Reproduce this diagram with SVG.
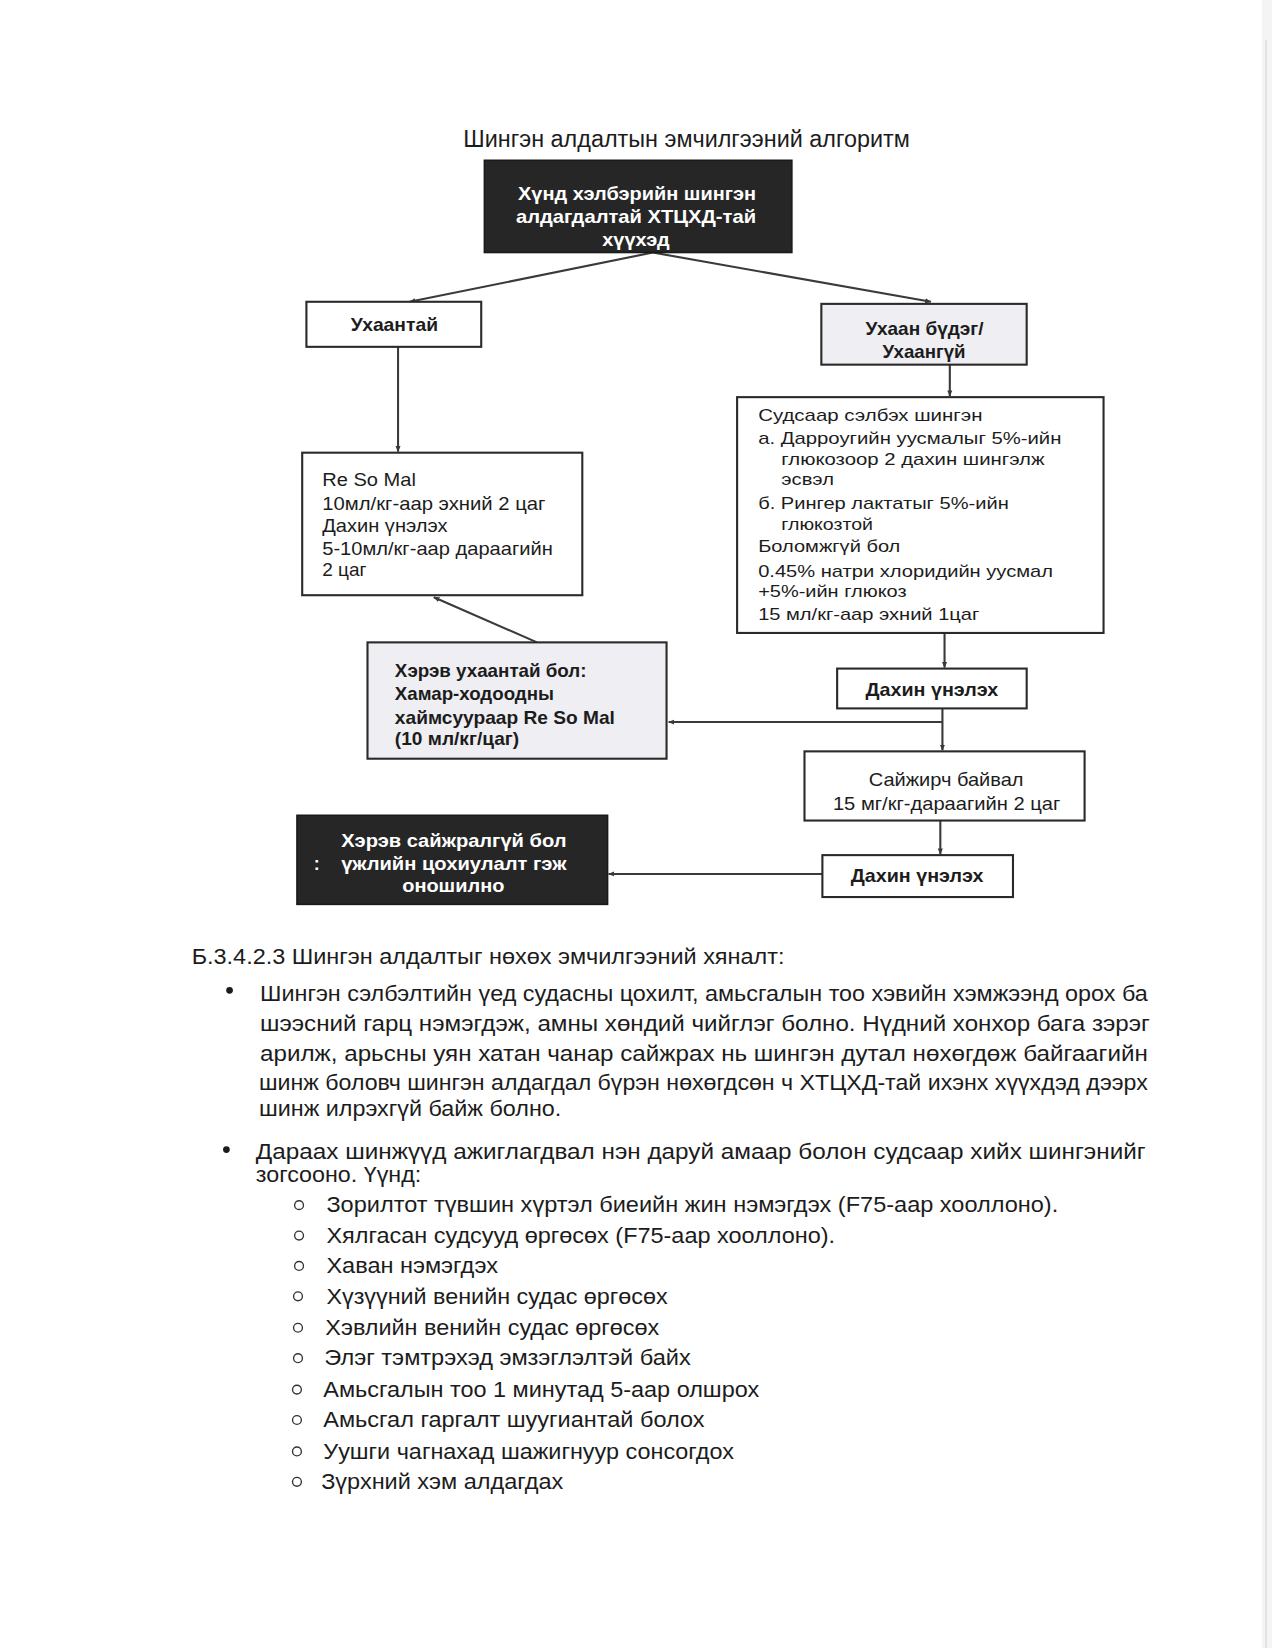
<svg xmlns="http://www.w3.org/2000/svg" width="1272" height="1648" viewBox="0 0 1272 1648">
<style>
text{font-family:"Liberation Sans",Arial,"Noto Sans",sans-serif;fill:#1c1c1c}
.t16{font-size:16px}
.t17{font-size:17px}
.b{font-weight:bold}
.w{fill:#ffffff}
.c{text-anchor:middle}
.body{font-size:21px}
.box{fill:#ffffff;stroke:#2a2a2a;stroke-width:2}
.lt{fill:#eeeef3;stroke:#2a2a2a;stroke-width:2}
.dk{fill:#262626;stroke:#1a1a1a;stroke-width:1.5}
.con{fill:none;stroke:#3a3a3a;stroke-width:2;marker-end:url(#ah)}
.ring{fill:none;stroke:#333;stroke-width:1.3}
</style>
<defs>
<marker id="ah" viewBox="0 0 10 10" refX="9" refY="5" markerWidth="6" markerHeight="6" orient="auto" markerUnits="userSpaceOnUse">
<path d="M0,1 L10,5 L0,9 Z" fill="#3a3a3a"/>
</marker>
</defs>
<rect x="0" y="0" width="1272" height="1648" fill="#ffffff"/>
<rect x="1262" y="0" width="10" height="1648" fill="#f4f4f4"/>
<line x1="1266" y1="40" x2="1266" y2="1648" stroke="#e2e2e2" stroke-width="2"/>
<g transform="matrix(1.053 0 0 1.048 0 1)">
<text id="title" x="440" y="139" font-size="22" textLength="424" lengthAdjust="spacingAndGlyphs">Шингэн алдалтын эмчилгээний алгоритм</text>

<g id="connectors">
<line class="con" x1="620" y1="240" x2="389" y2="287"/>
<line class="con" x1="620" y1="240" x2="884" y2="287"/>
<line class="con" x1="378" y1="330" x2="378" y2="430"/>
<line class="con" x1="902" y1="347" x2="902" y2="377"/>
<line class="con" x1="510" y1="612" x2="412" y2="569"/>
<line class="con" x1="897" y1="603" x2="897" y2="636"/>
<line class="con" x1="895" y1="675" x2="895" y2="715"/>
<line class="con" x1="895" y1="688" x2="635" y2="688"/>
<line class="con" x1="893" y1="782" x2="893" y2="814"/>
<line class="con" x1="781" y1="833" x2="578" y2="833"/>
</g>

<g id="n_start">
<rect class="dk" x="460" y="152" width="292" height="88"/>
<text class="t17 b w c" x="605" y="190" textLength="226" lengthAdjust="spacingAndGlyphs">Хүнд хэлбэрийн шингэн</text>
<text class="t17 b w c" x="604" y="212" textLength="228" lengthAdjust="spacingAndGlyphs">алдагдалтай ХТЦХД-тай</text>
<text class="t17 b w c" x="604" y="234" textLength="64" lengthAdjust="spacingAndGlyphs">хүүхэд</text>
</g>

<g id="n_conscious">
<rect class="box" x="291" y="287" width="166" height="43"/>
<text class="t17 b c" x="374.5" y="315" textLength="83" lengthAdjust="spacingAndGlyphs">Ухаантай</text>
</g>

<g id="n_unconscious">
<rect class="lt" x="780" y="289" width="195" height="58"/>
<text class="t17 b c" x="878" y="319" textLength="112" lengthAdjust="spacingAndGlyphs">Ухаан бүдэг/</text>
<text class="t17 b c" x="877.5" y="341" textLength="79" lengthAdjust="spacingAndGlyphs">Ухаангүй</text>
</g>

<g id="n_resomal">
<rect class="box" x="287" y="431" width="266" height="136"/>
<text class="t17" x="306" y="463" textLength="89" lengthAdjust="spacingAndGlyphs">Re So Mal</text>
<text class="t17" x="306" y="486" textLength="212" lengthAdjust="spacingAndGlyphs">10мл/кг-аар эхний 2 цаг</text>
<text class="t17" x="306" y="507" textLength="119" lengthAdjust="spacingAndGlyphs">Дахин үнэлэх</text>
<text class="t17" x="306" y="529" textLength="219" lengthAdjust="spacingAndGlyphs">5-10мл/кг-аар дараагийн</text>
<text class="t17" x="306" y="549" textLength="42" lengthAdjust="spacingAndGlyphs">2 цаг</text>
</g>

<g id="n_iv">
<rect class="box" x="700" y="378" width="348" height="225"/>
<text class="t16" x="720" y="401" textLength="213" lengthAdjust="spacingAndGlyphs">Судсаар сэлбэх шингэн</text>
<text class="t16" x="720" y="423" textLength="288" lengthAdjust="spacingAndGlyphs">а. Дарроугийн уусмалыг 5%-ийн</text>
<text class="t16" x="742" y="443" textLength="250" lengthAdjust="spacingAndGlyphs">глюкозоор 2 дахин шингэлж</text>
<text class="t16" x="742" y="462" textLength="50" lengthAdjust="spacingAndGlyphs">эсвэл</text>
<text class="t16" x="720" y="485" textLength="238" lengthAdjust="spacingAndGlyphs">б. Рингер лактатыг 5%-ийн</text>
<text class="t16" x="742" y="505" textLength="87" lengthAdjust="spacingAndGlyphs">глюкозтой</text>
<text class="t16" x="720" y="526" textLength="135" lengthAdjust="spacingAndGlyphs">Боломжгүй бол</text>
<text class="t16" x="720" y="550" textLength="280" lengthAdjust="spacingAndGlyphs">0.45% натри хлоридийн уусмал</text>
<text class="t16" x="720" y="569" textLength="141" lengthAdjust="spacingAndGlyphs">+5%-ийн глюкоз</text>
<text class="t16" x="720" y="591" textLength="210" lengthAdjust="spacingAndGlyphs">15 мл/кг-аар эхний 1цаг</text>
</g>

<g id="n_ng">
<rect class="lt" x="349" y="612" width="284" height="111"/>
<text class="t17 b" x="375" y="645" textLength="182" lengthAdjust="spacingAndGlyphs">Хэрэв ухаантай бол:</text>
<text class="t17 b" x="375" y="667" textLength="151" lengthAdjust="spacingAndGlyphs">Хамар-ходоодны</text>
<text class="t17 b" x="375" y="690" textLength="209" lengthAdjust="spacingAndGlyphs">хаймсуураар Re So Mal</text>
<text class="t17 b" x="375" y="710" textLength="118" lengthAdjust="spacingAndGlyphs">(10 мл/кг/цаг)</text>
</g>

<g id="n_reassess1">
<rect class="box" x="795" y="637" width="180" height="38"/>
<text class="t17 b c" x="885" y="663" textLength="126" lengthAdjust="spacingAndGlyphs">Дахин үнэлэх</text>
</g>

<g id="n_improve">
<rect class="box" x="764" y="716" width="266" height="66"/>
<text class="t17 c" x="898.5" y="749" textLength="147" lengthAdjust="spacingAndGlyphs">Сайжирч байвал</text>
<text class="t17 c" x="899" y="772" textLength="216" lengthAdjust="spacingAndGlyphs">15 мг/кг-дараагийн 2 цаг</text>
</g>

<g id="n_reassess2">
<rect class="box" x="781" y="815" width="181" height="40"/>
<text class="t17 b c" x="871" y="841" textLength="126" lengthAdjust="spacingAndGlyphs">Дахин үнэлэх</text>
</g>

<g id="n_sepsis">
<rect class="dk" x="282" y="777" width="295" height="85"/>
<text class="t17 b w c" x="431" y="807" textLength="214" lengthAdjust="spacingAndGlyphs">Хэрэв сайжралгүй бол</text>
<text class="t17 b w" x="298" y="829">:</text>
<text class="t17 b w c" x="431" y="829" textLength="214" lengthAdjust="spacingAndGlyphs">үжлийн цохиулалт гэж</text>
<text class="t17 b w c" x="430.5" y="850" textLength="97" lengthAdjust="spacingAndGlyphs">оношилно</text>
</g>

<g id="body">
<text class="body" x="182" y="919" textLength="563" lengthAdjust="spacingAndGlyphs">Б.3.4.2.3 Шингэн алдалтыг нөхөх эмчилгээний хяналт:</text>
<circle cx="218" cy="944" r="3.2" fill="#1c1c1c"/>
<text class="body" x="247" y="954" textLength="843" lengthAdjust="spacingAndGlyphs">Шингэн сэлбэлтийн үед судасны цохилт, амьсгалын тоо хэвийн хэмжээнд орох ба</text>
<text class="body" x="247" y="983" textLength="845" lengthAdjust="spacingAndGlyphs">шээсний гарц нэмэгдэж, амны хөндий чийглэг болно. Нүдний хонхор бага зэрэг</text>
<text class="body" x="247" y="1011" textLength="843" lengthAdjust="spacingAndGlyphs">арилж, арьсны уян хатан чанар сайжрах нь шингэн дутал нөхөгдөж байгаагийн</text>
<text class="body" x="246" y="1039" textLength="844" lengthAdjust="spacingAndGlyphs">шинж боловч шингэн алдагдал бүрэн нөхөгдсөн ч ХТЦХД-тай ихэнх хүүхдэд дээрх</text>
<text class="body" x="246" y="1064" textLength="287" lengthAdjust="spacingAndGlyphs">шинж илрэхгүй байж болно.</text>
<circle cx="215" cy="1096" r="3.2" fill="#1c1c1c"/>
<text class="body" x="243" y="1105" textLength="845" lengthAdjust="spacingAndGlyphs">Дараах шинжүүд ажиглагдвал нэн даруй амаар болон судсаар хийх шингэнийг</text>
<text class="body" x="243" y="1127" textLength="157" lengthAdjust="spacingAndGlyphs">зогсооно. Үүнд:</text>

<circle class="ring" cx="284" cy="1149" r="4.2"/>
<text class="body" x="310" y="1156" textLength="695" lengthAdjust="spacingAndGlyphs">Зорилтот түвшин хүртэл биеийн жин нэмэгдэх (F75-аар хооллоно).</text>
<circle class="ring" cx="284" cy="1178" r="4.2"/>
<text class="body" x="310" y="1185" textLength="483" lengthAdjust="spacingAndGlyphs">Хялгасан судсууд өргөсөх (F75-аар хооллоно).</text>
<circle class="ring" cx="284" cy="1207" r="4.2"/>
<text class="body" x="310" y="1214" textLength="163" lengthAdjust="spacingAndGlyphs">Хаван нэмэгдэх</text>
<circle class="ring" cx="283" cy="1236" r="4.2"/>
<text class="body" x="310" y="1243" textLength="324" lengthAdjust="spacingAndGlyphs">Хүзүүний венийн судас өргөсөх</text>
<circle class="ring" cx="283" cy="1266" r="4.2"/>
<text class="body" x="309" y="1273" textLength="317" lengthAdjust="spacingAndGlyphs">Хэвлийн венийн судас өргөсөх</text>
<circle class="ring" cx="283" cy="1295" r="4.2"/>
<text class="body" x="308" y="1302" textLength="348" lengthAdjust="spacingAndGlyphs">Элэг тэмтрэхэд эмзэглэлтэй байх</text>
<circle class="ring" cx="282" cy="1325" r="4.2"/>
<text class="body" x="307" y="1332" textLength="414" lengthAdjust="spacingAndGlyphs">Амьсгалын тоо 1 минутад 5-аар олшрох</text>
<circle class="ring" cx="282" cy="1354" r="4.2"/>
<text class="body" x="307" y="1361" textLength="362" lengthAdjust="spacingAndGlyphs">Амьсгал гаргалт шуугиантай болох</text>
<circle class="ring" cx="282" cy="1384" r="4.2"/>
<text class="body" x="307" y="1391" textLength="390" lengthAdjust="spacingAndGlyphs">Уушги чагнахад шажигнуур сонсогдох</text>
<circle class="ring" cx="282" cy="1413" r="4.2"/>
<text class="body" x="305" y="1420" textLength="230" lengthAdjust="spacingAndGlyphs">Зүрхний хэм алдагдах</text>
</g>
</g>
</svg>
